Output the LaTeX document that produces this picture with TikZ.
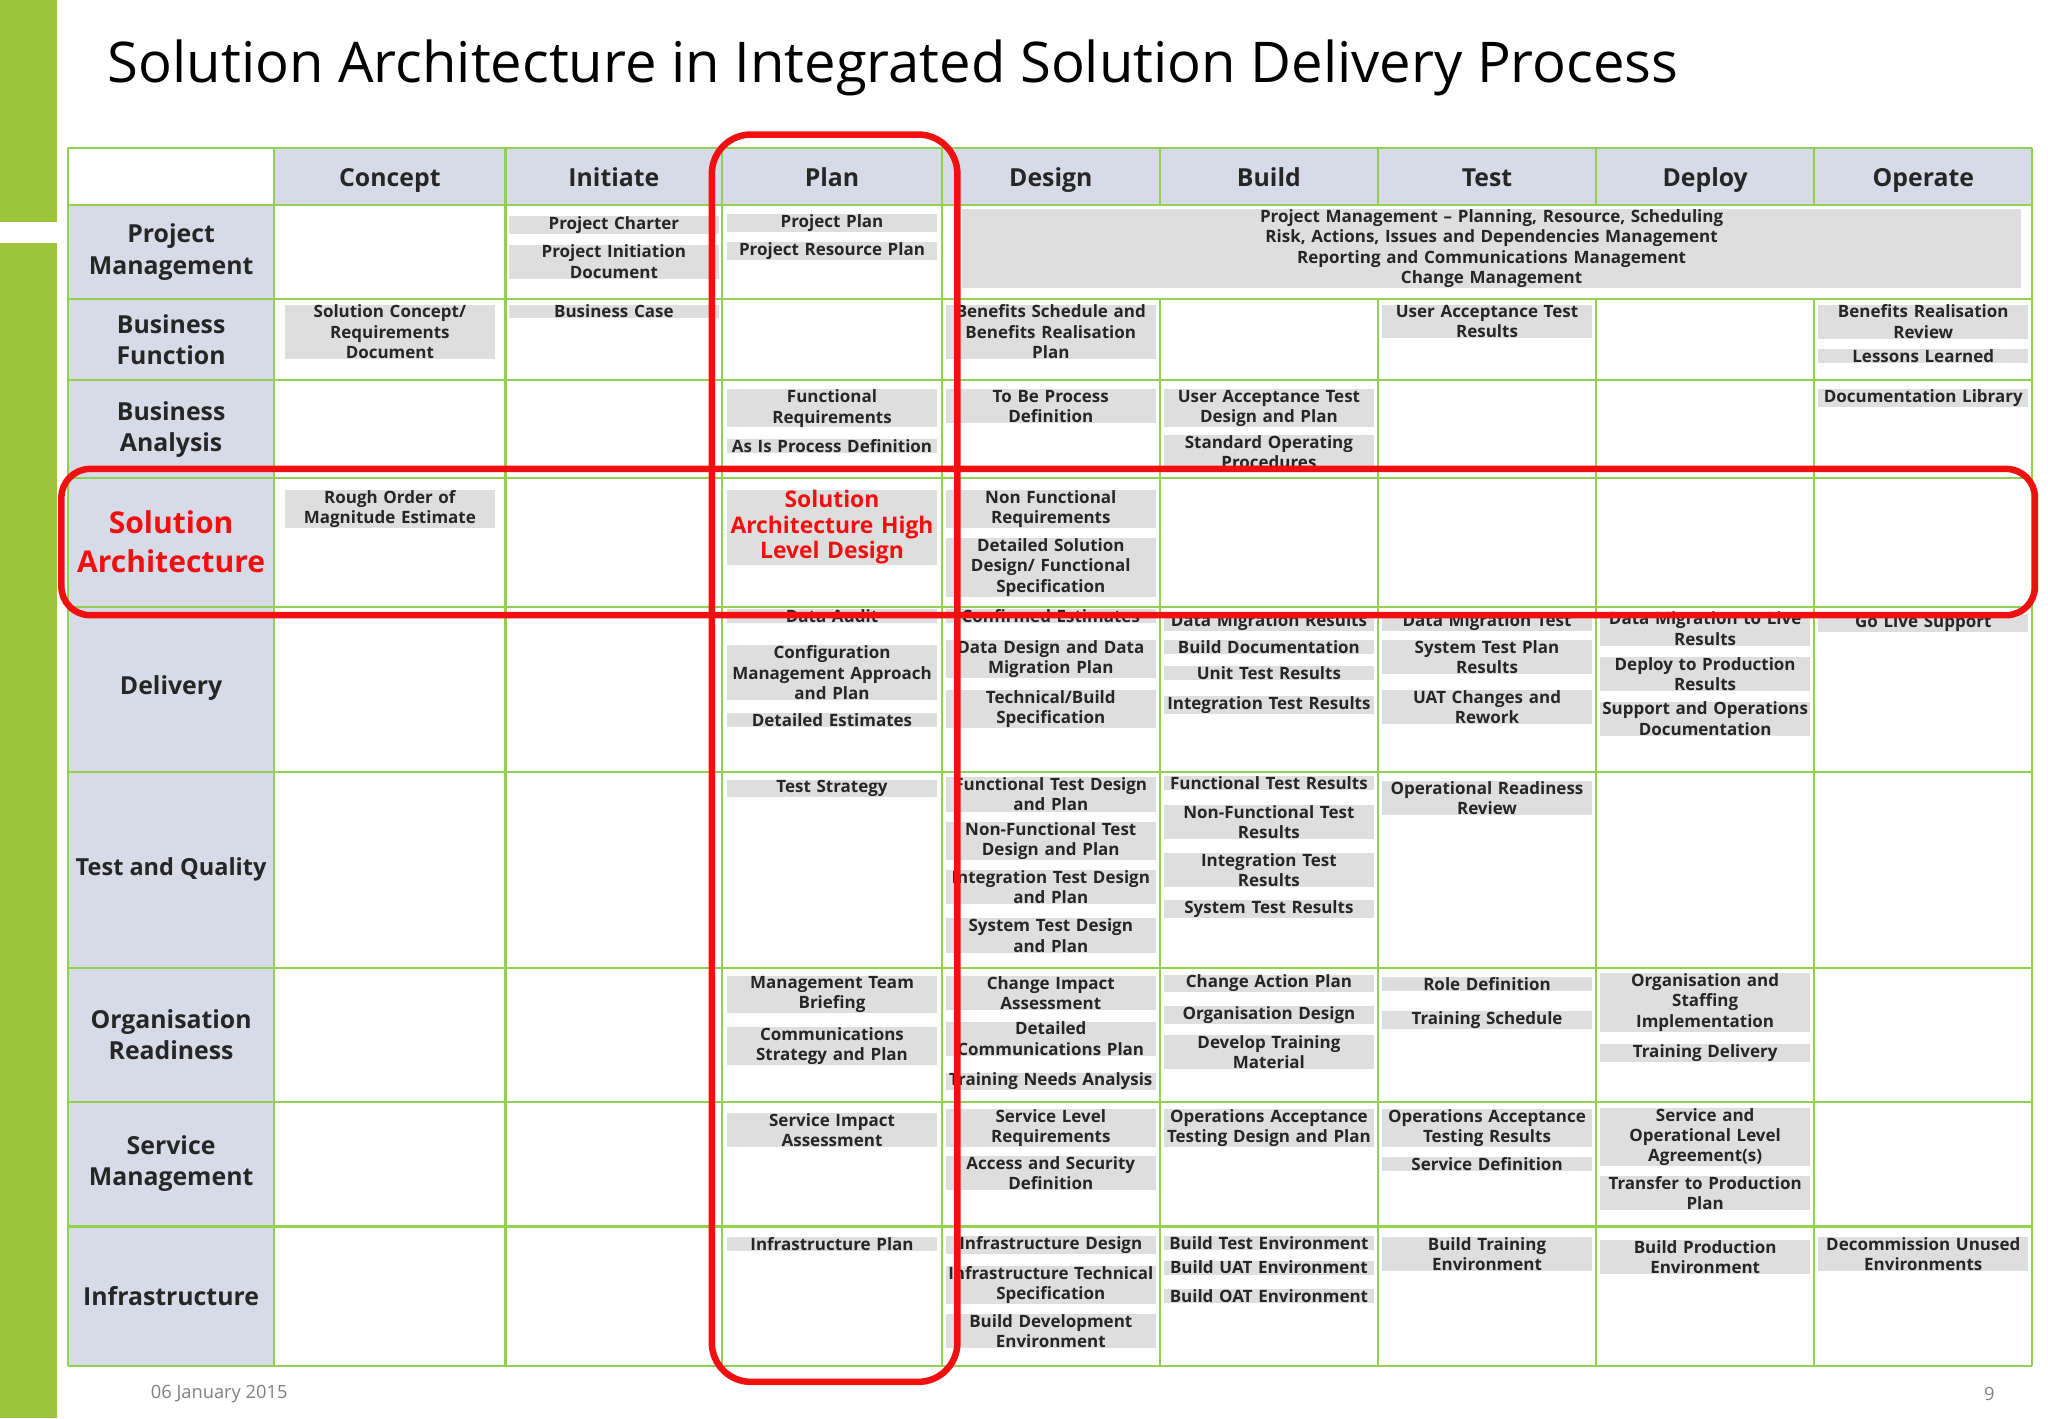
\documentclass[tikz,border=0pt]{standalone}
\usepackage{fontspec}
\setmainfont{Open Sans}
\definecolor{grn}{HTML}{92D050}
\definecolor{bar}{HTML}{9BC43B}
\definecolor{hdr}{HTML}{D6DBE7}
\definecolor{gbox}{HTML}{DEDEDE}
\definecolor{redl}{HTML}{F01010}
\hyphenpenalty=10000
\exhyphenpenalty=10000
\newcommand\bx[4]{\pgfmathsetmacro\xx{{0,131,298.5,470,637,804.5,971.5,1138.5,1305.5,1472.5}[#2]}\node[cbox] (#1) at (\xx,#3) {#4};}
\begin{document}
\hyphenpenalty=10000
\begin{tikzpicture}[x=1pt,y=-1pt,
 cbox/.style={anchor=north,fill=gbox,inner xsep=0.5pt,inner ysep=0.3pt,text width=160pt,align=center,font=\fontsize{13}{15.5}\selectfont\bfseries\color{black!85}},
 hd/.style={font=\fontsize{19}{24}\selectfont\bfseries\color{black!85},align=center},
 gridl/.style={draw=grn,line width=1.6pt}]
\useasboundingbox (0,0) rectangle (1568,1086);
\fill[white] (0,0) rectangle (1568,1086);
\fill[bar] (0,0) rectangle (44,170);
\fill[bar] (0,186) rectangle (44,1086);
\node[anchor=west,font=\fontsize{43}{48}\selectfont] (title) at (79,52) {Solution Architecture in Integrated Solution Delivery Process};
% fills
\fill[hdr] (210,113) rectangle (1556,157);
\fill[hdr] (52,157) rectangle (210,1046);
% header labels
\foreach \n/\x/\t in {h1/298.5/Concept,h2/470/Initiate,h3/637/Plan,h4/804.5/Design,h5/971.5/Build,h6/1138.5/Test,h7/1305.5/Deploy,h8/1472.5/Operate}
  \node[hd,anchor=base] (\n) at (\x,143) {\t};
\node[hd] (r1) at (131,193) {Project\\Management};
\node[hd] (r2) at (131,260) {Business\\Function};
\node[hd] (r3) at (131,329) {Business\\Analysis};
\node[font=\fontsize{23}{30}\selectfont\bfseries,text=redl,align=center] (r4) at (131,415) {Solution\\Architecture};
\node[hd] (r5) at (131,527) {Delivery};
\node[hd,font=\fontsize{18}{24}\selectfont\bfseries\color{black!85}] (r6) at (131,666) {Test and Quality};
\node[hd] (r7) at (131,792) {Organisation\\Readiness};
\node[hd] (r8) at (131,891) {Service\\Management};
\node[hd] (r9) at (131,992) {Infrastructure};
% grid
\foreach \x in {52,210,387,553,721,888,1055,1222,1389,1556}
  \draw[gridl] (\x,113) -- (\x,1046);
\foreach \y in {113,157,229,291,366,465,591,741,844,939,1046}
  \draw[gridl] (52,\y) -- (1556,\y);
\fill[white] (723,158) rectangle (1555,228);
% boxes
\bx{a1}{3}{165}{Project Charter}
\bx{a2}{3}{187}{Project Initiation\\Document}
\bx{a3}{4}{164}{Project Plan}
\bx{a4}{4}{185}{Project Resource Plan}
\node[cbox,text width=810pt] (a5) at (1142,160) {Project Management -- Planning, Resource, Scheduling\\Risk, Actions, Issues and Dependencies Management\\Reporting and Communications Management\\Change Management\\[2pt]};
\bx{b1}{2}{233}{Solution Concept/\\Requirements\\Document}
\bx{b2}{3}{233}{Business Case}
\bx{b3}{5}{233}{Benefits Schedule and\\Benefits Realisation\\Plan}
\bx{b4}{7}{233}{User Acceptance Test\\Results}
\bx{b5}{9}{233}{Benefits Realisation\\Review}
\bx{b6}{9}{267}{Lessons Learned}
\bx{c1}{4}{298}{Functional\\Requirements}
\bx{c2}{4}{336}{As Is Process Definition}
\bx{c3}{5}{298}{To Be Process\\Definition}
\bx{c4}{6}{298}{User Acceptance Test\\Design and Plan}
\begin{scope}\clip (888,291) rectangle (1055,363);
\bx{c5}{6}{333}{Standard Operating\\Procedures}
\end{scope}
\bx{c6}{9}{298}{Documentation Library}
\bx{d1}{2}{375}{Rough Order of\\Magnitude Estimate}
\node[cbox,font=\fontsize{17.5}{19.5}\selectfont\bfseries\color{redl}] (d2) at (637,375) {Solution\\Architecture High\\Level Design};
\bx{d3}{5}{375}{Non Functional\\Requirements}
\bx{d4}{5}{412}{Detailed Solution\\Design/ Functional\\Specification}
\begin{scope}\clip (52,466) rectangle (1556,1046);
\bx{e1}{4}{466}{Data Audit}
\bx{e4}{5}{466}{Confirmed Estimates}
\bx{e7}{6}{469}{Data Migration Results}
\bx{e11}{7}{469}{Data Migration Test}
\bx{e14}{8}{468}{Data Migration to Live\\Results}
\bx{e17}{9}{470}{Go Live Support}
\end{scope}
\bx{e2}{4}{494}{Configuration\\Management Approach\\and Plan}
\bx{e3}{4}{546}{Detailed Estimates}
\bx{e5}{5}{490}{Data Design and Data\\Migration Plan}
\bx{e6}{5}{528}{Technical/Build\\Specification}
\bx{e8}{6}{490}{Build Documentation}
\bx{e9}{6}{510}{Unit Test Results}
\bx{e10}{6}{533}{Integration Test Results}
\bx{e12}{7}{490}{System Test Plan\\Results}
\bx{e13}{7}{528}{UAT Changes and\\Rework}
\bx{e15}{8}{503}{Deploy to Production\\Results}
\bx{e16}{8}{537}{Support and Operations\\Documentation}
\bx{f1}{4}{597}{Test Strategy}
\bx{f2}{5}{595}{Functional Test Design\\and Plan}
\bx{f3}{5}{629}{Non-Functional Test\\Design and Plan}
\bx{f4}{5}{666}{Integration Test Design\\and Plan}
\bx{f5}{5}{703}{System Test Design\\and Plan}
\bx{f6}{6}{594}{Functional Test Results}
\bx{f7}{6}{616}{Non-Functional Test\\Results}
\bx{f8}{6}{653}{Integration Test\\Results}
\bx{f9}{6}{689}{System Test Results}
\bx{f10}{7}{598}{Operational Readiness\\Review}
\bx{g1}{4}{747}{Management Team\\Briefing}
\bx{g2}{4}{786}{Communications\\Strategy and Plan}
\bx{g3}{5}{747}{Change Impact\\Assessment}
\bx{g4}{5}{782}{Detailed\\Communications Plan}
\bx{g5}{5}{821}{Training Needs Analysis}
\bx{g6}{6}{746}{Change Action Plan}
\bx{g7}{6}{770}{Organisation Design}
\bx{g8}{6}{792}{Develop Training\\Material}
\bx{g9}{7}{748}{Role Definition}
\bx{g10}{7}{774}{Training Schedule}
\bx{g11}{8}{745}{Organisation and\\Staffing\\Implementation}
\bx{g12}{8}{799}{Training Delivery}
\bx{k1}{4}{852}{Service Impact\\Assessment}
\bx{k2}{5}{849}{Service Level\\Requirements}
\bx{k3}{5}{885}{Access and Security\\Definition}
\bx{k4}{6}{849}{Operations Acceptance\\Testing Design and Plan}
\bx{k5}{7}{849}{Operations Acceptance\\Testing Results}
\bx{k6}{7}{886}{Service Definition}
\bx{k7}{8}{848}{Service and\\Operational Level\\Agreement(s)}
\bx{k8}{8}{900}{Transfer to Production\\Plan}
\bx{m1}{4}{947}{Infrastructure Plan}
\bx{m2}{5}{946}{Infrastructure Design}
\bx{m3}{5}{969}{Infrastructure Technical\\Specification}
\bx{m4}{5}{1006}{Build Development\\Environment}
\bx{m5}{6}{946}{Build Test Environment}
\bx{m6}{6}{965}{Build UAT Environment}
\bx{m7}{6}{987}{Build OAT Environment}
\bx{m8}{7}{947}{Build Training\\Environment}
\bx{m9}{8}{949}{Build Production\\Environment}
\bx{m10}{9}{947}{Decommission Unused\\Environments}
% red frames
\draw[redl,line width=5pt,rounded corners=30pt] (545,103) rectangle (733,1058);
\draw[redl,line width=5pt,rounded corners=22pt] (47,359) rectangle (1558,471);
% footer
\node[anchor=west,font=\fontsize{14}{17}\selectfont,text=black!50] (date) at (112,1067) {06 January 2015};
\node[font=\fontsize{14}{17}\selectfont,text=black!50] (pg) at (1523,1067) {9};
\end{tikzpicture}
\end{document}
